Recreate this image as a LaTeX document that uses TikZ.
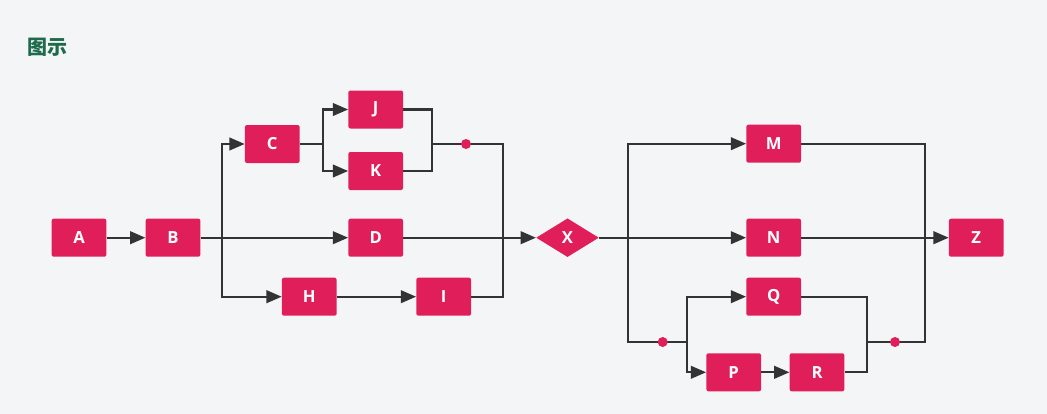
\documentclass[tikz,border=0pt]{standalone}
\usepackage{fontspec}
\usepackage{tikz}
\usetikzlibrary{shapes.geometric,arrows.meta}
\setmainfont{Open Sans}
\newfontfamily\cjkfont{Noto Sans CJK SC}
\definecolor{boxred}{HTML}{E01E5A}
\definecolor{wire}{HTML}{333333}
\definecolor{paper}{HTML}{F4F5F7}
\definecolor{titlegreen}{HTML}{1E6B4B}
\begin{document}
\begin{tikzpicture}[x=0.75pt,y=0.75pt,yscale=-1,xscale=1,
    box/.style={rectangle,rounded corners=1.5pt,fill=boxred,text=white,font=\bfseries\fontsize{12.5pt}{14pt}\selectfont,minimum width=41pt,minimum height=28.5pt,inner sep=0pt},
    gate/.style={diamond,fill=boxred,text=white,font=\bfseries\fontsize{12.5pt}{14pt}\selectfont,minimum width=47pt,minimum height=29pt,inner sep=0pt},
    link/.style={draw=wire,line width=1.6pt},
    flow/.style={link,-{Triangle[length=11.5pt,width=9.5pt]}},
    joint/.style={circle,fill=boxred,minimum size=7.5pt,inner sep=0pt}]
    \fill[paper] (0,0) rectangle (1047,414);

    % Title
    \node[anchor=west,inner sep=0pt,text=titlegreen,font=\cjkfont\bfseries\fontsize{15pt}{17pt}\selectfont] (title) at (27.5,47) {图示};

    % Nodes
    \node[box] (A) at (79,237.7) {A};
    \node[box] (B) at (173,237.7) {B};
    \node[box] (C) at (272.3,144) {C};
    \node[box] (J) at (375.7,109.5) {J};
    \node[box] (K) at (375.7,171) {K};
    \node[box] (D) at (375.7,237.7) {D};
    \node[box] (H) at (309.3,296.7) {H};
    \node[box] (I) at (443.7,296.7) {I};
    \node[gate] (X) at (567.5,237.7) {X};
    \node[box] (M) at (773.7,143.7) {M};
    \node[box] (N) at (773.7,237.7) {N};
    \node[box] (Q) at (773.7,296.7) {Q};
    \node[box] (P) at (733.7,372.3) {P};
    \node[box] (R) at (817,372.3) {R};
    \node[box] (Z) at (976.3,237.7) {Z};

    % Junctions
    \coordinate (fork1) at (222.3,237.7);
    \coordinate (split1) at (323,144);
    \coordinate (merge1) at (432,144);
    \coordinate (join1) at (503.3,144);
    \coordinate (fork2) at (627.7,237.7);
    \coordinate (split2) at (686.7,342);
    \coordinate (merge2) at (866.7,342);
    \coordinate (join2) at (925,342);

    % Left block
    \draw[flow] (A) -- (B);
    \draw[flow] (B) -- (D);
    \draw[flow] (fork1) |- (C);
    \draw[flow] (fork1) |- (H);
    \draw[link] (C) -- (split1);
    \draw[flow] (split1) |- (J);
    \draw[flow] (split1) |- (K);
    \draw[link] (J) -| (merge1) |- (K);
    \draw[link] (merge1) -- (join1) |- (I);
    \draw[flow] (H) -- (I);
    \draw[flow] (D) -- (X);

    % Right block
    \draw[flow] (X) -- (N);
    \draw[flow] (fork2) |- (M);
    \draw[link] (fork2) |- (split2);
    \draw[flow] (split2) |- (Q);
    \draw[flow] (split2) |- (P);
    \draw[flow] (P) -- (R);
    \draw[link] (Q) -| (merge2) |- (R);
    \draw[link] (merge2) -- (join2) |- (M);
    \draw[flow] (N) -- (Z);

    % Dots
    \node[joint] (dot1) at (466,144) {};
    \node[joint] (dot2) at (662.7,342) {};
    \node[joint] (dot3) at (895,342) {};
\end{tikzpicture}
\end{document}
